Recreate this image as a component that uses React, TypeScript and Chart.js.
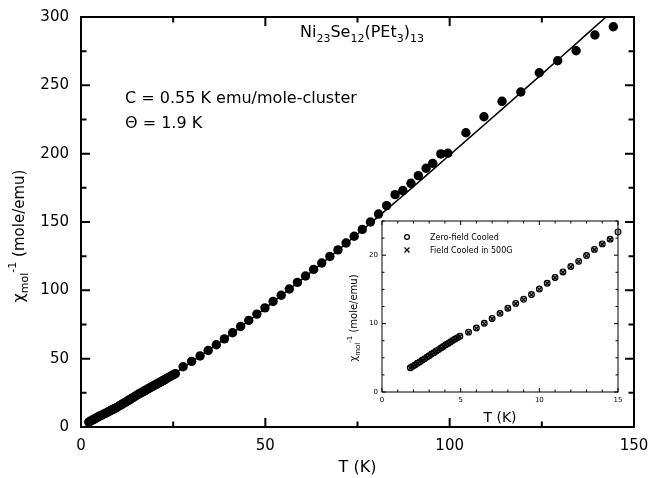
import React, { useEffect, useRef } from "react";
import { Chart, registerables } from "chart.js";
Chart.register(...registerables);

const FONT = '"DejaVu Sans", "Liberation Sans", Arial, sans-serif';

// ---- Main plot data: T (K) vs chi_mol^-1 (mole/emu) ----
const mainLowT = [2.1, 2.6, 3.1, 3.6, 4.1, 4.6, 5.1, 5.6, 6.1, 6.6, 7.1, 7.6, 8.1, 8.6, 9.1, 9.6, 10.1, 10.6, 11.1, 11.6, 12.1, 12.6, 13.1, 13.6, 14.1, 14.6, 15.1, 15.6, 16.1, 16.6, 17.1, 17.6, 18.1, 18.6, 19.1, 19.6, 20.1, 20.6, 21.1, 21.6, 22.1, 22.6, 23.1, 23.6, 24.1, 24.6, 25.1, 25.6];
const mainLowV = [3.6, 4.4, 5.1, 5.8, 6.6, 7.3, 8.1, 8.7, 9.3, 10.0, 10.7, 11.4, 12.1, 12.8, 13.4, 14.2, 15.0, 15.8, 16.6, 17.4, 18.2, 19.0, 19.8, 20.7, 21.5, 22.3, 23.2, 24.0, 24.8, 25.5, 26.3, 27.0, 27.8, 28.5, 29.3, 30.0, 30.8, 31.5, 32.3, 33.0, 33.8, 34.5, 35.3, 36.0, 36.8, 37.5, 38.3, 39.0];
const mainHighT = [27.7, 30.0, 32.3, 34.5, 36.7, 38.9, 41.1, 43.3, 45.5, 47.7, 49.9, 52.1, 54.3, 56.5, 58.7, 60.9, 63.1, 65.3, 67.5, 69.7, 71.9, 74.1, 76.3, 78.5, 80.7, 82.9, 85.2, 87.3, 89.5, 91.5, 93.6, 95.4, 97.6, 99.5, 104.4, 109.3, 114.2, 119.3, 124.3, 129.3, 134.3, 139.4, 144.4];
const mainHighV = [44.1, 48.0, 52.0, 56.0, 60.2, 64.5, 69.0, 73.5, 78.0, 82.6, 87.2, 91.8, 96.4, 101.0, 105.8, 110.5, 115.3, 120.0, 124.8, 129.6, 134.6, 139.6, 144.6, 150.0, 155.8, 162.0, 170.0, 173.0, 178.3, 183.9, 189.3, 192.9, 199.8, 200.3, 215.3, 227.0, 238.3, 245.1, 259.2, 268.0, 275.3, 286.8, 292.9];
const fitT = [2, 5, 10, 15, 20, 25, 30, 40, 50, 60, 70, 80, 90, 100, 110, 120, 130, 140, 143];
const fitV = [3.2, 7.6, 15.0, 22.6, 30.4, 38.6, 47.6, 66.5, 87.0, 108.2, 130.0, 152.5, 175.5, 199.0, 222.6, 246.3, 270.2, 294.2, 301.4];

const mainXTicks = [0, 50, 100, 150];
const mainYTicks = [0, 50, 100, 150, 200, 250, 300];

// ---- Inset data ----
const insetFcT = [1.8, 1.95, 2.1, 2.25, 2.4, 2.55, 2.7, 2.85, 3.0, 3.15, 3.3, 3.45, 3.6, 3.75, 3.9, 4.05, 4.2, 4.35, 4.5, 4.65, 4.8, 4.95, 5.5, 6.0, 6.5, 7.0, 7.5, 8.0, 8.5, 9.0, 9.5, 10.0, 10.5, 11.0, 11.5, 12.0, 12.5, 13.0, 13.5, 14.0, 14.5];
const insetFcV = [3.5, 3.7, 3.95, 4.15, 4.4, 4.6, 4.85, 5.05, 5.3, 5.5, 5.75, 5.95, 6.2, 6.4, 6.65, 6.85, 7.1, 7.3, 7.5, 7.7, 7.9, 8.1, 8.7, 9.3, 10.0, 10.7, 11.5, 12.2, 12.9, 13.5, 14.2, 15.0, 15.9, 16.7, 17.5, 18.3, 19.05, 19.9, 20.8, 21.6, 22.3];
const insetZfcT = [1.8, 1.95, 2.1, 2.25, 2.4, 2.55, 2.7, 2.85, 3.0, 3.15, 3.3, 3.45, 3.6, 3.75, 3.9, 4.05, 4.2, 4.35, 4.5, 4.65, 4.8, 4.95, 5.5, 6.0, 6.5, 7.0, 7.5, 8.0, 8.5, 9.0, 9.5, 10.0, 10.5, 11.0, 11.5, 12.0, 12.5, 13.0, 13.5, 14.0, 14.5, 15.0];
const insetZfcV = [3.55, 3.75, 3.95, 4.2, 4.4, 4.65, 4.85, 5.1, 5.3, 5.55, 5.75, 6.0, 6.2, 6.45, 6.65, 6.9, 7.1, 7.3, 7.55, 7.75, 7.95, 8.15, 8.75, 9.35, 10.05, 10.75, 11.5, 12.25, 12.95, 13.55, 14.25, 15.05, 15.9, 16.75, 17.55, 18.35, 19.1, 19.95, 20.85, 21.65, 22.35, 23.4];

const insetXTicks = [0, 5, 10, 15];
const insetYTicks = [0, 10, 20];

const pts = (xs: number[], ys: number[]) => xs.map((x, i) => ({ x, y: ys[i] }));

type Part = [string, number, number];
function drawRich(ctx: CanvasRenderingContext2D, parts: Part[], x: number, y: number, align: "left" | "center") {
  let w = 0;
  for (const p of parts) {
    ctx.font = `${p[1]}px ${FONT}`;
    w += ctx.measureText(p[0]).width;
  }
  let cx = align === "center" ? x - w / 2 : x;
  ctx.textAlign = "left";
  ctx.textBaseline = "alphabetic";
  for (const p of parts) {
    ctx.font = `${p[1]}px ${FONT}`;
    ctx.fillText(p[0], cx, y + p[2]);
    cx += ctx.measureText(p[0]).width;
  }
}

function framePlugin(id: string, cfg: { xMajor: number; xMinor: number; yMajor: number; yMinor: number; majL: number; minL: number; lw: number }) {
  return {
    id,
    afterDatasetsDraw(chart: any) {
      const { ctx, chartArea: a, scales } = chart;
      const xs = scales.x, ys = scales.y;
      ctx.save();
      ctx.strokeStyle = "#000";
      ctx.lineWidth = cfg.lw;
      ctx.strokeRect(a.left, a.top, a.right - a.left, a.bottom - a.top);
      ctx.beginPath();
      const nx = Math.round((xs.max - xs.min) / cfg.xMinor);
      for (let i = 0; i <= nx; i++) {
        const v = xs.min + i * cfg.xMinor;
        const px = xs.getPixelForValue(v);
        const r = v / cfg.xMajor;
        const L = Math.abs(r - Math.round(r)) < 1e-6 ? cfg.majL : cfg.minL;
        ctx.moveTo(px, a.bottom); ctx.lineTo(px, a.bottom - L);
        ctx.moveTo(px, a.top); ctx.lineTo(px, a.top + L);
      }
      const ny = Math.round((ys.max - ys.min) / cfg.yMinor);
      for (let i = 0; i <= ny; i++) {
        const v = ys.min + i * cfg.yMinor;
        const py = ys.getPixelForValue(v);
        const r = v / cfg.yMajor;
        const L = Math.abs(r - Math.round(r)) < 1e-6 ? cfg.majL : cfg.minL;
        ctx.moveTo(a.left, py); ctx.lineTo(a.left + L, py);
        ctx.moveTo(a.right, py); ctx.lineTo(a.right - L, py);
      }
      ctx.stroke();
      ctx.restore();
    },
  };
}

const mainTextPlugin = {
  id: "mainText",
  afterDraw(chart: any) {
    const { ctx, chartArea: a } = chart;
    ctx.save();
    ctx.fillStyle = "#000";
    drawRich(ctx, [["Ni", 16, 0], ["23", 11, 5], ["Se", 16, 0], ["12", 11, 5], ["(PEt", 16, 0], ["3", 11, 5], [")", 16, 0], ["13", 11, 5]], 300, 37, "left");
    drawRich(ctx, [["C = 0.55 K emu/mole-cluster", 16, 0]], 125, 103, "left");
    drawRich(ctx, [["Θ = 1.9 K", 16, 0]], 125, 128, "left");
    drawRich(ctx, [["T (K)", 16, 0]], (a.left + a.right) / 2, 472, "center");
    ctx.translate(24, 236);
    ctx.rotate(-Math.PI / 2);
    drawRich(ctx, [["χ", 16, 0], ["mol", 11, 4], ["-1", 11, -8], [" (mole/emu)", 15, 0]], 0, 0, "center");
    ctx.restore();
  },
};

const insetTextPlugin = {
  id: "insetText",
  beforeDatasetsDraw(chart: any) {
    const { ctx, chartArea: a } = chart;
    ctx.save();
    ctx.fillStyle = "#fff";
    ctx.fillRect(a.left, a.top, a.right - a.left, a.bottom - a.top);
    ctx.restore();
  },
  afterDraw(chart: any) {
    const { ctx, chartArea: a } = chart;
    ctx.save();
    ctx.fillStyle = "#000";
    ctx.strokeStyle = "#000";
    ctx.lineWidth = 1.2;
    // legend
    ctx.beginPath();
    ctx.arc(77, 25, 2.4, 0, Math.PI * 2);
    ctx.stroke();
    ctx.beginPath();
    ctx.moveTo(74.5, 35.5); ctx.lineTo(79.5, 40.5);
    ctx.moveTo(79.5, 35.5); ctx.lineTo(74.5, 40.5);
    ctx.stroke();
    drawRich(ctx, [["Zero-field Cooled", 8, 0]], 100, 28, "left");
    drawRich(ctx, [["Field Cooled in 500G", 8, 0]], 100, 41, "left");
    // titles
    drawRich(ctx, [["T (K)", 14, 0]], (a.left + a.right) / 2, 210, "center");
    ctx.translate(27, 106);
    ctx.rotate(-Math.PI / 2);
    drawRich(ctx, [["χ", 10, 0], ["mol", 7, 3], ["-1", 7, -5], [" (mole/emu)", 10, 0]], 0, 0, "center");
    ctx.restore();
  },
};

const zeroPadX = (h: number) => (s: any) => { s.height = h; s.paddingLeft = 0; s.paddingRight = 0; };
const zeroPadY = (w: number) => (s: any) => { s.width = w; s.paddingTop = 0; s.paddingBottom = 0; };

export default function App() {
  const mainRef = useRef<HTMLCanvasElement>(null);
  const insetRef = useRef<HTMLCanvasElement>(null);

  useEffect(() => {
    const mainChart = new Chart(mainRef.current as HTMLCanvasElement, {
      type: "scatter",
      data: {
        datasets: [
          { data: pts(mainLowT, mainLowV), pointRadius: 4.7, pointBackgroundColor: "#000", pointBorderWidth: 0, showLine: false },
          { data: pts(mainHighT, mainHighV), pointRadius: 4.7, pointBackgroundColor: "#000", pointBorderWidth: 0, showLine: false },
          { data: pts(fitT, fitV), showLine: true, pointRadius: 0, borderColor: "#000", borderWidth: 1.5, tension: 0.3, fill: false },
        ],
      } as any,
      options: {
        animation: false,
        responsive: false,
        events: [],
        layout: { padding: { top: 17, right: 15, left: 0, bottom: 0 } },
        plugins: { legend: { display: false }, tooltip: { enabled: false } },
        scales: {
          x: {
            type: "linear", min: 0, max: 150,
            grid: { display: false, drawTicks: false }, border: { display: false },
            ticks: { color: "#000", font: { family: FONT, size: 15 }, padding: 10, maxRotation: 0 },
            afterBuildTicks: (s: any) => { s.ticks = mainXTicks.map((v) => ({ value: v })); },
            afterFit: zeroPadX(51),
          },
          y: {
            type: "linear", min: 0, max: 300,
            grid: { display: false, drawTicks: false }, border: { display: false },
            ticks: { color: "#000", font: { family: FONT, size: 15 }, padding: 12 },
            afterBuildTicks: (s: any) => { s.ticks = mainYTicks.map((v) => ({ value: v })); },
            afterFit: zeroPadY(81),
          },
        },
      } as any,
      plugins: [framePlugin("mainFrame", { xMajor: 50, xMinor: 25, yMajor: 50, yMinor: 25, majL: 9, minL: 5.5, lw: 2 }), mainTextPlugin],
    });

    const insetChart = new Chart(insetRef.current as HTMLCanvasElement, {
      type: "scatter",
      data: {
        datasets: [
          { data: pts(insetFcT, insetFcV), pointStyle: "crossRot", pointRadius: 3.2, borderColor: "#000", pointBorderWidth: 1.2, showLine: false, clip: 6 },
          { data: pts(insetZfcT, insetZfcV), pointStyle: "circle", pointRadius: 2.9, borderColor: "#000", pointBackgroundColor: "rgba(60,60,60,0.45)", pointBorderWidth: 1.1, showLine: false, clip: 6 },
        ],
      } as any,
      options: {
        animation: false,
        responsive: false,
        events: [],
        layout: { padding: { top: 9, right: 12, left: 0, bottom: 0 } },
        plugins: { legend: { display: false }, tooltip: { enabled: false } },
        scales: {
          x: {
            type: "linear", min: 0, max: 15,
            grid: { display: false, drawTicks: false }, border: { display: false },
            ticks: { color: "#000", font: { family: FONT, size: 7 }, padding: 4, maxRotation: 0 },
            afterBuildTicks: (s: any) => { s.ticks = insetXTicks.map((v) => ({ value: v })); },
            afterFit: zeroPadX(40),
          },
          y: {
            type: "linear", min: 0, max: 25,
            grid: { display: false, drawTicks: false }, border: { display: false },
            ticks: { color: "#000", font: { family: FONT, size: 7 }, padding: 4 },
            afterBuildTicks: (s: any) => { s.ticks = insetYTicks.map((v) => ({ value: v })); },
            afterFit: zeroPadY(52),
          },
        },
      } as any,
      plugins: [framePlugin("insetFrame", { xMajor: 5, xMinor: 1, yMajor: 10, yMinor: 2.5, majL: 4, minL: 2.5, lw: 1 }), insetTextPlugin],
    });

    return () => {
      mainChart.destroy();
      insetChart.destroy();
    };
  }, []);

  return (
    <div style={{ position: "fixed", left: 0, top: 0, width: 649, height: 478, background: "#fff" }}>
      <canvas ref={mainRef} width={649} height={478} style={{ position: "absolute", left: 0, top: 0 }} />
      <canvas ref={insetRef} width={300} height={220} style={{ position: "absolute", left: 330, top: 212 }} />
    </div>
  );
}
